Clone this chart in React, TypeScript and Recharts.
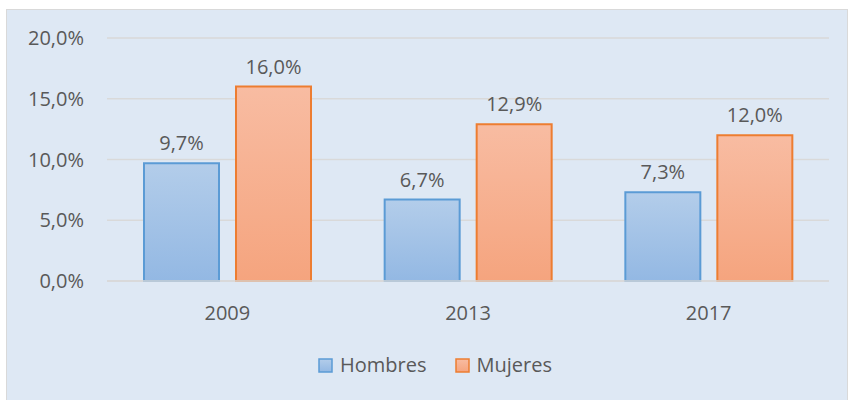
import React from "react";
import {
  BarChart,
  Bar,
  XAxis,
  YAxis,
  CartesianGrid,
  Legend,
  LabelList,
} from "recharts";

const years = ["2009", "2013", "2017"];
const hombres = [9.7, 6.7, 7.3];
const mujeres = [16.0, 12.9, 12.0];
const yTicks = [0, 5, 10, 15, 20];

const data = years.map((year, i) => ({
  year,
  Hombres: hombres[i],
  Mujeres: mujeres[i],
}));

const FONT = "'Open Sans', 'Noto Sans', sans-serif";
const TEXT = "#595959";
const FS = 20;

const fmt = (v: number) => v.toFixed(1).replace(".", ",") + "%";

const SERIES = [
  { key: "Hombres", grad: "url(#gH)", stroke: "#5b9bd5", top: "#b3cdea", bottom: "#93b8e3" },
  { key: "Mujeres", grad: "url(#gM)", stroke: "#ed7d31", top: "#f8bca2", bottom: "#f5a47e" },
];

function LegendContent() {
  return (
    <div
      style={{
        display: "flex",
        justifyContent: "center",
        gap: 28,
        fontFamily: FONT,
        fontSize: FS,
        color: TEXT,
        lineHeight: "24px",
        position: "relative",
        top: 4,
        paddingLeft: 34,
      }}
    >
      {SERIES.map((s) => (
        <div key={s.key} style={{ display: "flex", alignItems: "center", gap: 7 }}>
          <svg width={15} height={15}>
            <defs>
              <linearGradient id={"lg" + s.key} x1="0" y1="0" x2="0" y2="1">
                <stop offset="0%" stopColor={s.top} />
                <stop offset="100%" stopColor={s.bottom} />
              </linearGradient>
            </defs>
            <rect x={1} y={1} width={13} height={13} fill={"url(#lg" + s.key + ")"} stroke={s.stroke} strokeWidth={1.5} />
          </svg>
          <span>{s.key}</span>
        </div>
      ))}
    </div>
  );
}

export default function App() {
  return (
    <div
      style={{
        position: "absolute",
        left: 6,
        top: 9,
        width: 842,
        height: 395,
        background: "#dee8f4",
        border: "1px solid #d9d9d9",
        boxSizing: "border-box",
      }}
    >
      <BarChart
        width={842}
        height={395}
        data={data}
        margin={{ top: 28, right: 20, bottom: 32, left: 0 }}
        barCategoryGap={37}
        barGap={17}
      >
        <defs>
          {SERIES.map((s) => (
            <linearGradient key={s.key} id={s.grad.slice(5, -1)} x1="0" y1="0" x2="0" y2="1">
              <stop offset="0%" stopColor={s.top} />
              <stop offset="100%" stopColor={s.bottom} />
            </linearGradient>
          ))}
        </defs>
        <CartesianGrid vertical={false} stroke="#d9d9d9" strokeWidth={1.5} />
        <XAxis
          dataKey="year"
          axisLine={{ stroke: "#d9d9d9", strokeWidth: 1.5 }}
          tickLine={false}
          tickSize={0}
          tickMargin={25}
          height={68}
          tick={{ fill: TEXT, fontSize: FS, fontFamily: FONT }}
        />
        <YAxis
          domain={[0, 20]}
          ticks={yTicks}
          tickFormatter={fmt}
          axisLine={false}
          tickLine={false}
          tickSize={0}
          tickMargin={23}
          width={100}
          tick={{ fill: TEXT, fontSize: FS, fontFamily: FONT }}
        />
        <Legend verticalAlign="bottom" content={<LegendContent />} />
        {SERIES.map((s) => (
          <Bar
            key={s.key}
            dataKey={s.key}
            fill={s.grad}
            stroke={s.stroke}
            strokeWidth={2}
            isAnimationActive={false}
          >
            <LabelList
              dataKey={s.key}
              position="top"
              offset={13}
              formatter={(v: any) => fmt(Number(v))}
              style={{ fill: TEXT, fontSize: FS, fontFamily: FONT }}
            />
          </Bar>
        ))}
      </BarChart>
    </div>
  );
}
